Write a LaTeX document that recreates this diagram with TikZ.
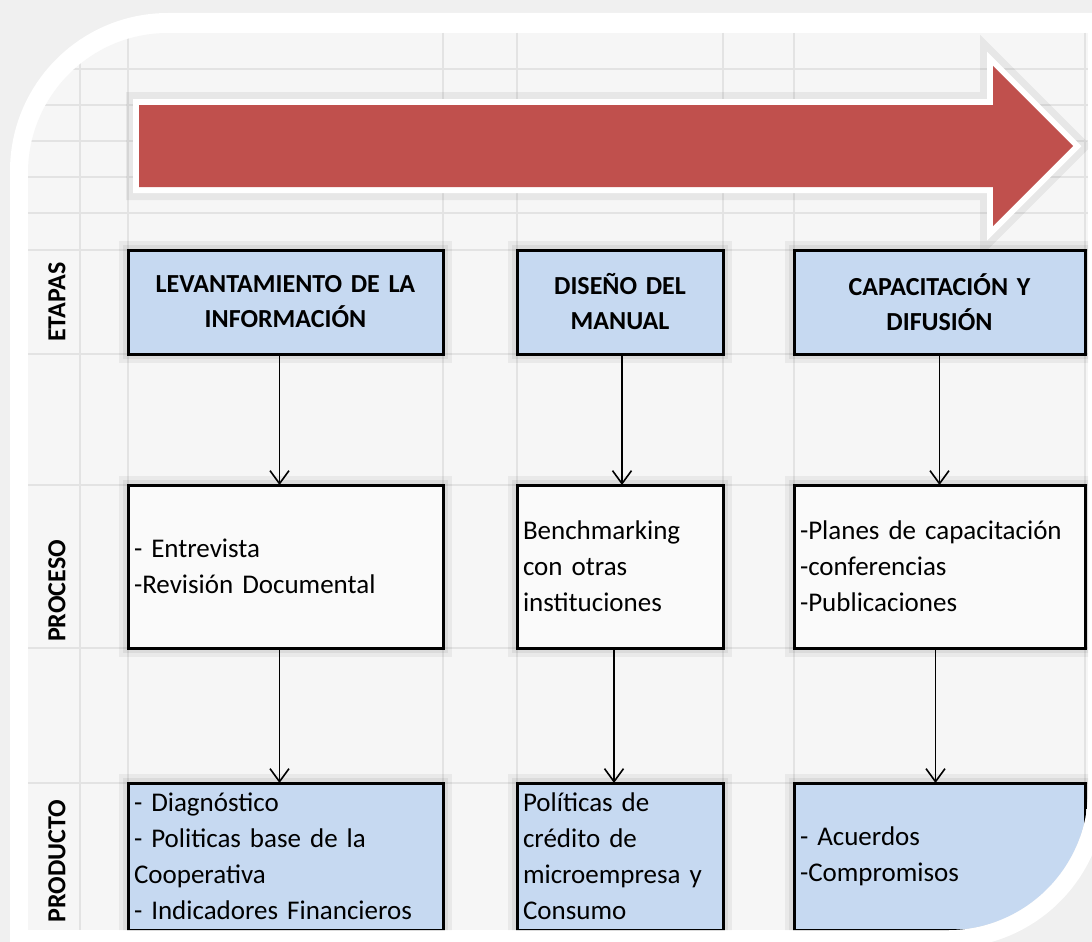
\documentclass[tikz,border=0pt]{standalone}
\usepackage{fontspec}
\setmainfont{Carlito}
\usepackage{tikz}
\usetikzlibrary{arrows.meta,positioning,calc}
\definecolor{rojo}{HTML}{C0504D}
\definecolor{azul}{HTML}{C6D9F1}

\begin{document}
\begin{tikzpicture}[x=1pt,y=-1pt,
    sombra/.style={preaction={draw=black,draw opacity=0.05,line width=18pt},
      preaction={draw=black,draw opacity=0.06,line width=10pt}},
    caja/.style={sombra,draw=black,line width=3pt,inner ysep=0pt,inner xsep=6pt,outer sep=0pt,
      font=\fontsize{27}{36}\selectfont,align=left},
    etapa/.style={caja,fill=azul,align=center,minimum height=104pt,
      font=\bfseries\fontsize{26}{35}\selectfont},
    proceso/.style={caja,fill=gray!4,minimum height=163pt},
    producto/.style={caja,fill=azul,minimum height=147pt},
    rotulo/.style={rotate=90,font=\bfseries\fontsize{26}{30}\selectfont},
    rejilla/.style={draw=gray!22,line width=1.2pt},
    flecha/.style={-{Straight Barb[length=13pt,width=19pt]},line width=1.6pt}]
  \useasboundingbox (0,0) rectangle (1092,942);
  \clip (0,0) rectangle (1092,942);
  \fill[gray!12] (0,0) rectangle (1092,942);
  \fill[white] (10,948) -- (10,171) .. controls (10,83.7) and (80.7,13) .. (168,13)
    -- (1106,13) -- (1106,790) .. controls (1106,877.3) and (1035.3,948) .. (948,948) -- cycle;
  \begin{scope}
    \clip (28,930) -- (28,173) .. controls (28,95.7) and (90.7,33) .. (168,33)
      -- (1088,33) -- (1088,790) .. controls (1088,867.3) and (1025.3,930) .. (948,930) -- cycle;
    \fill[gray!7] (28,33) rectangle (1088,930);
    \foreach \x in {80,128,443,517,723,794,1085}
      \draw[rejilla] (\x,33) -- (\x,930);
    \foreach \y in {69,105,141,177,213,250,354,485,648,783}
      \draw[rejilla] (28,\y) -- (1088,\y);
    \fill[rojo,preaction={draw=black,draw opacity=0.06,line width=26pt},
      preaction={draw=white,line width=12pt}]
      (139,105) -- (993,105) -- (993,66) -- (1073,146) -- (993,226)
      -- (993,187) -- (139,187) -- cycle;

    \node[rotulo] (lEtapas) at (57,302) {ETAPAS};
    \node[rotulo] (lProceso) at (57,591) {PROCESO};
    \node[rotulo] (lProducto) at (57,861) {PRODUCTO};

    \node[etapa,text width=303pt] (e1) at (285.5,302) {LEVANTAMIENTO DE LA\\INFORMACIÓN};
    \node[etapa,text width=194pt] (e2) at (620,302) {DISEÑO DEL\\MANUAL};
    \node[etapa,text width=279pt] (e3) at (939.5,302) {CAPACITACIÓN Y\\DIFUSIÓN};

    \node[proceso,text width=303pt,below=131pt of e1] (p1) {- Entrevista\\-Revisión Documental};
    \node[proceso,text width=194pt,below=131pt of e2] (p2) {Benchmarking\\con otras\\instituciones};
    \node[proceso,text width=279pt,below=131pt of e3] (p3) {-Planes de capacitación\\-conferencias\\-Publicaciones};

    \node[producto,text width=303pt,below=135pt of p1] (r1)
      {- Diagnóstico\\- Politicas base de la\\Cooperativa\\- Indicadores Financieros};
    \node[producto,text width=194pt,below=135pt of p2] (r2)
      {Políticas de\\crédito de\\microempresa y\\Consumo};
    \node[producto,text width=279pt,below=135pt of p3] (r3) {- Acuerdos\\-Compromisos};
  \end{scope}

  \foreach \a/\b/\s in {e1/p1/-6,e2/p2/2,e3/p3/0,p1/r1/-6,p2/r2/-6,p3/r3/-4}
    \draw[flecha] ([xshift=\s pt]\a.south) -- ([xshift=\s pt]\b.north);
\end{tikzpicture}
\end{document}
